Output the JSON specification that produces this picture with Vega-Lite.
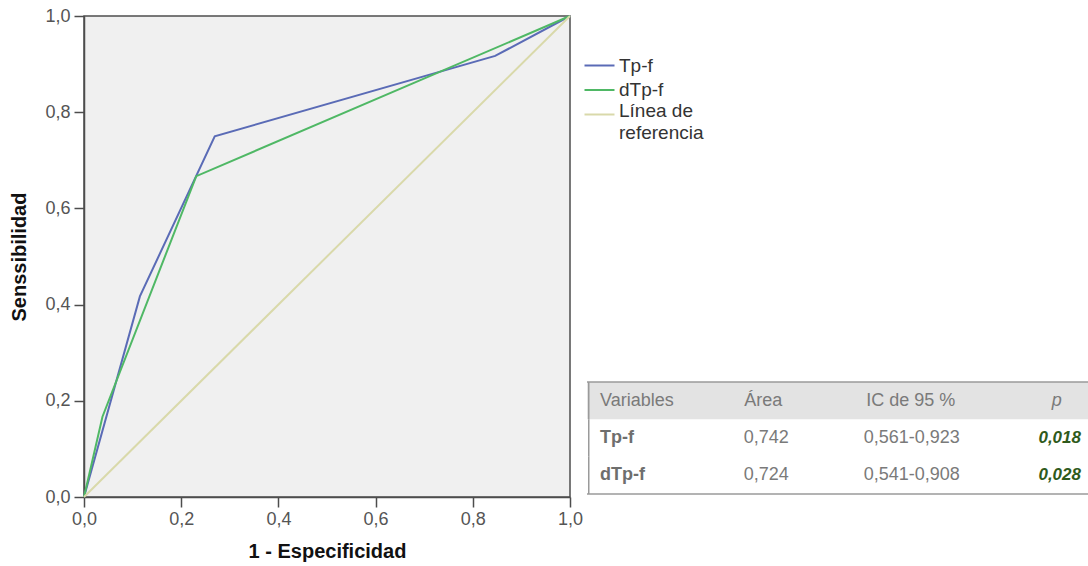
{
  "$schema": "https://vega.github.io/schema/vega-lite/v6.json",
  "padding": {"left": 9, "top": 6, "right": 0, "bottom": 0},
  "background": "white",
  "bounds": "flush",
  "spacing": 17,
  "config": {"font": "Liberation Sans"},
  "hconcat": [
    {
      "width": 486,
      "height": 481,
      "view": {"fill": "#f0f0f0", "stroke": "#4d4d4d", "strokeWidth": 1.5},
      "data": {"values": [
        {"curva": "Tp-f", "fpr": 0.0, "tpr": 0.0},
        {"curva": "Tp-f", "fpr": 0.115, "tpr": 0.417},
        {"curva": "Tp-f", "fpr": 0.269, "tpr": 0.75},
        {"curva": "Tp-f", "fpr": 0.846, "tpr": 0.917},
        {"curva": "Tp-f", "fpr": 1.0, "tpr": 1.0},
        {"curva": "dTp-f", "fpr": 0.0, "tpr": 0.0},
        {"curva": "dTp-f", "fpr": 0.038, "tpr": 0.167},
        {"curva": "dTp-f", "fpr": 0.231, "tpr": 0.667},
        {"curva": "dTp-f", "fpr": 1.0, "tpr": 1.0},
        {"curva": "Línea de referencia", "fpr": 0.0, "tpr": 0.0},
        {"curva": "Línea de referencia", "fpr": 1.0, "tpr": 1.0}
      ]},
      "mark": {"type": "line"},
      "encoding": {
        "x": {
          "field": "fpr", "type": "quantitative",
          "scale": {"domain": [0, 1], "nice": false, "zero": false},
          "axis": {
            "title": "1 - Especificidad", "values": [0, 0.2, 0.4, 0.6, 0.8, 1],
            "labelExpr": "replace(format(datum.value, '.1f'), '.', ',')",
            "grid": false, "labelFlush": false, "labelOverlap": false,
            "domainColor": "#4d4d4d", "domainWidth": 1.5, "tickColor": "#4d4d4d", "tickWidth": 1.5, "tickSize": 10,
            "labelFontSize": 18, "labelColor": "#555555", "labelPadding": 3,
            "titleFontSize": 20, "titleFontWeight": "bold", "titleColor": "#111111", "titlePadding": 13
          }
        },
        "y": {
          "field": "tpr", "type": "quantitative",
          "scale": {"domain": [0, 1], "nice": false, "zero": false},
          "axis": {
            "title": "Senssibilidad", "values": [0, 0.2, 0.4, 0.6, 0.8, 1],
            "labelExpr": "replace(format(datum.value, '.1f'), '.', ',')",
            "grid": false, "labelFlush": false, "labelOverlap": false,
            "domainColor": "#4d4d4d", "domainWidth": 1.5, "tickColor": "#4d4d4d", "tickWidth": 1.5, "tickSize": 10,
            "labelFontSize": 18, "labelColor": "#555555", "labelPadding": 4,
            "titleFontSize": 20, "titleFontWeight": "bold", "titleColor": "#111111", "titlePadding": 15
          }
        },
        "color": {
          "field": "curva", "type": "nominal",
          "scale": {"domain": ["Tp-f", "dTp-f", "Línea de referencia"], "range": ["#5a6bb6", "#4fb865", "#d9d9aa"]},
          "legend": {
            "orient": "none", "legendX": 502, "legendY": 36, "title": null, "padding": 0,
            "symbolType": "M-1.2,0H1.2", "symbolSize": 625, "symbolStrokeWidth": 2,
            "labelFontSize": 19, "labelColor": "#333333", "labelOffset": 6, "rowPadding": 0.5, "labelLimit": 220,
            "labelExpr": "datum.label == 'Línea de referencia' ? ['Línea de', 'referencia'] : datum.label",
            "encode": {"labels": {"update": {
              "lineHeight": {"value": 22},
              "dy": {"signal": "datum.value === 'Línea de referencia' ? -4 : 0"}
            }}}
          }
        },
        "strokeWidth": {
          "field": "curva", "type": "nominal",
          "scale": {"domain": ["Tp-f", "dTp-f", "Línea de referencia"], "range": [2, 2, 1.3]},
          "legend": null
        }
      }
    },
    {
      "width": 502,
      "height": 479,
      "view": {"stroke": null},
      "data": {"values": [
        {"fila": "encabezado", "columna": "Variables", "texto": "Variables"},
        {"fila": "encabezado", "columna": "Área", "texto": "Área"},
        {"fila": "encabezado", "columna": "IC de 95 %", "texto": "IC de 95 %"},
        {"fila": "encabezado", "columna": "p", "texto": "p"},
        {"fila": "Tp-f", "columna": "Variables", "texto": "Tp-f"},
        {"fila": "Tp-f", "columna": "Área", "texto": "0,742"},
        {"fila": "Tp-f", "columna": "IC de 95 %", "texto": "0,561-0,923"},
        {"fila": "Tp-f", "columna": "p", "texto": "0,018"},
        {"fila": "dTp-f", "columna": "Variables", "texto": "dTp-f"},
        {"fila": "dTp-f", "columna": "Área", "texto": "0,724"},
        {"fila": "dTp-f", "columna": "IC de 95 %", "texto": "0,541-0,908"},
        {"fila": "dTp-f", "columna": "p", "texto": "0,028"}
      ]},
      "encoding": {
        "y": {
          "field": "fila", "type": "nominal",
          "scale": {"domain": ["encabezado", "Tp-f", "dTp-f"], "paddingInner": 0, "paddingOuter": 0, "range": [366, 478]},
          "axis": null
        }
      },
      "layer": [
        {
          "transform": [{"filter": "datum.fila == 'encabezado' && datum.columna == 'Variables'"}],
          "mark": {"type": "rect", "fill": "#e3e3e3"},
          "encoding": {
            "x": {"datum": 0, "type": "quantitative", "scale": {"domain": [0, 100], "nice": false, "zero": false}, "axis": null},
            "x2": {"datum": 100}
          }
        },
        {
          "transform": [{"filter": "datum.fila == 'encabezado' && datum.columna == 'Variables'"}],
          "mark": {"type": "rule", "color": "#9a9a9a", "strokeWidth": 1.5},
          "encoding": {
            "y": {"field": "fila", "type": "nominal", "bandPosition": 0},
            "x": {"datum": 0, "type": "quantitative", "axis": null},
            "x2": {"datum": 100}
          }
        },
        {
          "transform": [{"filter": "datum.fila == 'dTp-f' && datum.columna == 'Variables'"}],
          "mark": {"type": "rule", "color": "#9a9a9a", "strokeWidth": 1.5},
          "encoding": {
            "y": {"field": "fila", "type": "nominal", "bandPosition": 1},
            "x": {"datum": 0, "type": "quantitative", "axis": null},
            "x2": {"datum": 100}
          }
        },
        {
          "transform": [{"filter": "datum.columna == 'Variables'"}],
          "mark": {"type": "rect", "fill": "#9a9a9a"},
          "encoding": {
            "x": {"datum": 0.2, "type": "quantitative", "axis": null},
            "x2": {"datum": 0.5}
          }
        },
        {
          "transform": [{"filter": "datum.fila == 'encabezado' && datum.columna == 'Variables'"}],
          "mark": {"type": "text", "align": "left", "baseline": "middle", "fontSize": 18, "color": "#7a7a7a"},
          "encoding": {"x": {"datum": 2.6, "type": "quantitative", "axis": null}, "text": {"field": "texto"}}
        },
        {
          "transform": [{"filter": "datum.fila == 'encabezado' && datum.columna == 'Área'"}],
          "mark": {"type": "text", "align": "center", "baseline": "middle", "fontSize": 18, "color": "#7a7a7a"},
          "encoding": {"x": {"datum": 35.1, "type": "quantitative", "axis": null}, "text": {"field": "texto"}}
        },
        {
          "transform": [{"filter": "datum.fila == 'encabezado' && datum.columna == 'IC de 95 %'"}],
          "mark": {"type": "text", "align": "center", "baseline": "middle", "fontSize": 18, "color": "#7a7a7a"},
          "encoding": {"x": {"datum": 64.5, "type": "quantitative", "axis": null}, "text": {"field": "texto"}}
        },
        {
          "transform": [{"filter": "datum.fila == 'encabezado' && datum.columna == 'p'"}],
          "mark": {"type": "text", "align": "center", "baseline": "middle", "fontSize": 18, "fontStyle": "italic", "color": "#7a7a7a"},
          "encoding": {"x": {"datum": 93.6, "type": "quantitative", "axis": null}, "text": {"field": "texto"}}
        },
        {
          "transform": [{"filter": "datum.fila != 'encabezado' && datum.columna == 'Variables'"}],
          "mark": {"type": "text", "align": "left", "baseline": "middle", "fontSize": 18, "fontWeight": "bold", "color": "#6e6e6e"},
          "encoding": {"x": {"datum": 2.6, "type": "quantitative", "axis": null}, "text": {"field": "texto"}}
        },
        {
          "transform": [{"filter": "datum.fila != 'encabezado' && datum.columna == 'Área'"}],
          "mark": {"type": "text", "align": "center", "baseline": "middle", "fontSize": 18, "color": "#7a7a7a"},
          "encoding": {"x": {"datum": 35.7, "type": "quantitative", "axis": null}, "text": {"field": "texto"}}
        },
        {
          "transform": [{"filter": "datum.fila != 'encabezado' && datum.columna == 'IC de 95 %'"}],
          "mark": {"type": "text", "align": "center", "baseline": "middle", "fontSize": 18, "color": "#7a7a7a"},
          "encoding": {"x": {"datum": 64.7, "type": "quantitative", "axis": null}, "text": {"field": "texto"}}
        },
        {
          "transform": [{"filter": "datum.fila != 'encabezado' && datum.columna == 'p'"}],
          "mark": {"type": "text", "align": "right", "baseline": "middle", "fontSize": 17, "fontWeight": "bold", "fontStyle": "italic", "color": "#2f5a1c"},
          "encoding": {"x": {"datum": 98.4, "type": "quantitative", "axis": null}, "text": {"field": "texto"}}
        }
      ]
    }
  ]
}
